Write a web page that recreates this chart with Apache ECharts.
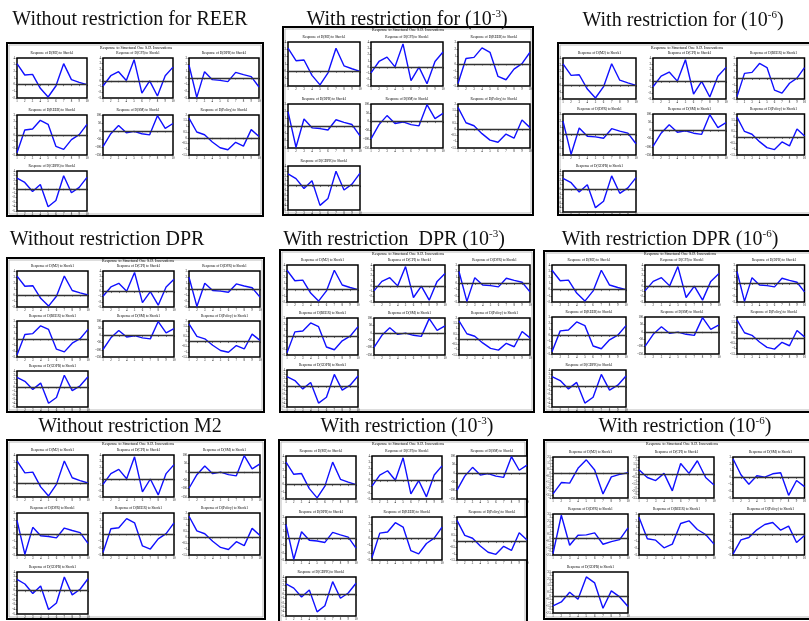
<!DOCTYPE html>
<html><head><meta charset="utf-8">
<script src="https://cdn.jsdelivr.net/npm/echarts@6/dist/echarts.min.js"></script>
<style>html,body{margin:0;padding:0;background:#fff}#c{width:809px;height:621px}</style>
</head><body><div id="c"></div><script>
// ---------- data ----------
const periods = ['1','2','3','4','5','6','7','8','9','10'];
const superTitle = 'Response to Structural One S.D. Innovations';

// base impulse responses (same shapes repeated across most panels)
const respM    = [3.15, 1.45, 1.55, -0.55, -1.85, -0.2, 3.15, 0.75, 0.35, 0];
const respCPP  = [-0.9, 0.9, 1.6, 0.05, 3.7, -2.15, 0, -2.65, 0.9, 2.4];
const respDPR  = [1.95, -2.9, 0.95, -0.25, -0.35, -0.55, 0.85, 0.5, 0.2, -1.35];
const respREER = [-2.65, 0.75, 0.9, 2.2, 1.6, -1.7, -2.15, -0.7, 0.05, 1.6];
const respSM   = [-98, -17, 34, -11, -2, -17, -24, 96, 17, 47];
const respPOL  = [1.73, 0.51, 0.27, -0.36, -0.87, -1.04, -0.39, -0.72, 0.72, 0.12];
const respGDPR = [2.4, 1.43, -0.6, 0.98, -4.05, -2.63, 2.93, -0.9, 0.3, 2.55];

// responses with restriction (10^-6) for M2
const altM    = [-3.35, -1.55, -1.65, 0.7, 2.05, 0.45, -3.35, -0.65, -0.25, 0];
const altCPP  = [0.65, -0.5, -0.95, 0.1, -2.45, 1.55, 0.1, 1.95, -0.5, -1.6];
const altSM   = [2.75, 0.4, -0.98, 0.25, 0.05, 0.54, 0.69, -2.61, -0.44, -1.33];
const altDPR  = [-2.29, 3.32, -1.07, 0.39, 0.44, 0.73, -0.93, -0.54, -0.24, 1.46];
const altREER = [2.54, -0.63, -0.83, -1.95, -1.41, 1.61, 2.0, 0.73, 0, -1.41];
const altPOL  = [-2.88, -0.78, -0.44, 0.68, 1.46, 1.76, 0.63, 1.22, -1.17, -0.15];
const altGDPR = [-1.46, -0.88, 0.54, -0.49, 2.78, 1.9, -1.8, 0.73, -0.15, -1.56];

const varLabels = {M:'D(M2)', CPP:'D(CPI)', DPR:'D(DPR)', REER:'D(REER)', SM:'D(SM)', POL:'D(Policy)', GDPR:'D(GDPR)'};

const dataSets = {
  base: {M:respM, CPP:respCPP, DPR:respDPR, REER:respREER, SM:respSM, POL:respPOL, GDPR:respGDPR},
  alt:  {M:altM, CPP:altCPP, DPR:altDPR, REER:altREER, SM:altSM, POL:altPOL, GDPR:altGDPR}
};
// axis scales [min, max, interval]
const scales = {
  base: {M:[-2,4,1], CPP:[-3,4,1], DPR:[-3,3,1], REER:[-3,3,1], SM:[-150,100,50], POL:[-1.5,2,0.5], GDPR:[-5,4,1]},
  alt:  {M:[-4,2.5,0.5], CPP:[-3.5,2.5,0.5], DPR:[-2.5,3.5,0.5], REER:[-3,3,1], SM:[-3,3,1], POL:[-3,3,1], GDPR:[-2.5,3.5,0.5]}
};

// panel titles: [main, superscript, tail]
const panelTitles = [
  ['Without restriction for REER', '', ''],
  ['With restriction for (10', '-3', ')'],
  ['With restriction for (10', '-6', ')'],
  ['Without restriction DPR', '', ''],
  ['With restriction  DPR (10', '-3', ')'],
  ['With restriction DPR (10', '-6', ')'],
  ['Without restriction M2', '', ''],
  ['With restriction (10', '-3', ')'],
  ['With restriction (10', '-6', ')']
];
const panelOrders = [
  ['M','CPP','DPR','REER','SM','POL','GDPR'],
  ['M','CPP','REER','DPR','SM','POL','GDPR'],
  ['M','CPP','REER','DPR','SM','POL','GDPR'],
  ['M','CPP','DPR','REER','SM','POL','GDPR'],
  ['M','CPP','DPR','REER','SM','POL','GDPR'],
  ['M','CPP','DPR','REER','SM','POL','GDPR'],
  ['M','CPP','SM','DPR','REER','POL','GDPR'],
  ['M','CPP','SM','DPR','REER','POL','GDPR'],
  ['M','CPP','SM','DPR','REER','POL','GDPR']
];
const panelSets = ['base','base','base','base','base','base','base','base','alt'];

// ---------- layout ----------
const layout = [
  {tx:130, ty:20,  box:[7,43,256,173],   sx:136, sy:48,  cols:[17,103,189],  w:70, rows:[58,115,171],  h:40},
  {tx:407, ty:20,  box:[283,27,250,188], sx:408, sy:29.5,cols:[288,371,458], w:72, rows:[42,104,166],  h:44},
  {tx:683, ty:21,  box:[558,43,270,172], sx:687, sy:48,  cols:[563,653,737], w:73, rows:[58,114,171],  h:41},
  {tx:107, ty:240, box:[7,258,257,154],  sx:138, sy:261, cols:[17,103,189],  w:71, rows:[271,321,371], h:36},
  {tx:394, ty:240, box:[280,250,254,162],sx:408, sy:254, cols:[287,374,459], w:71, rows:[265,318,370], h:37},
  {tx:670, ty:240, box:[544,251,280,161],sx:680, sy:254, cols:[552,645,737], w:74, rows:[265,317,370], h:37},
  {tx:130, ty:427, box:[7,440,258,179],  sx:138, sy:444, cols:[17,103,189],  w:71, rows:[455,513,572], h:42},
  {tx:407, ty:427, box:[279,440,248,200],sx:408, sy:444, cols:[286,372,457], w:70, rows:[456,517,577], h:43},
  {tx:685, ty:427, box:[544,440,280,179],sx:682, sy:444, cols:[553,639,733], w:75, rows:[457,514,572], h:41}
];

const FONT = 'Liberation Serif';
const grids = [], xAxes = [], yAxes = [], series = [], graphic = [];
let gi = 0;
layout.forEach((L, p) => {
  const [bx, by, bw, bh] = L.box;
  graphic.push({type:'rect', shape:{x:bx, y:by, width:bw, height:bh}, style:{fill:'#fff', stroke:'#000', lineWidth:2}, z:-10, silent:true});
  graphic.push({type:'rect', shape:{x:bx+2, y:by+2, width:bw-4, height:bh-4}, style:{fill:'none', stroke:'#aaa', lineWidth:0.8}, z:-9, silent:true});
  const t = panelTitles[p];
  const txt = t[1] ? '{n|' + t[0] + '}{s|' + t[1] + '}{n|' + t[2] + '}' : '{n|' + t[0] + '}';
  graphic.push({type:'text', x:L.tx, y:L.ty, z:50, silent:true, style:{text:txt, align:'center', verticalAlign:'middle',
    rich:{n:{fontSize:20, fontFamily:FONT, fill:'#111', lineHeight:22}, s:{fontSize:11, fontFamily:FONT, fill:'#111', verticalAlign:'top'}}}});
  graphic.push({type:'text', x:L.sx, y:L.sy, z:50, silent:true, style:{text:superTitle, align:'center', verticalAlign:'middle', fontSize:4, fontFamily:FONT, fill:'#000'}});
  panelOrders[p].forEach((v, k) => {
    const col = k % 3, row = Math.floor(k / 3);
    const gx = L.cols[col], gy = L.rows[row];
    const sc = scales[panelSets[p]][v];
    grids.push({left:gx, top:gy, width:L.w, height:L.h, show:true, borderColor:'#000', borderWidth:1.5, backgroundColor:'#fff', containLabel:false});
    xAxes.push({gridIndex:gi, type:'category', data:periods, boundaryGap:false,
      axisLine:{show:false}, axisTick:{show:true, length:1.5, interval:0, lineStyle:{color:'#000', width:0.5}},
      axisLabel:{fontSize:3, margin:2, color:'#000', interval:0, fontFamily:FONT}, splitLine:{show:false}});
    yAxes.push({gridIndex:gi, type:'value', min:sc[0], max:sc[1], interval:sc[2],
      axisLine:{show:false}, axisTick:{show:true, length:1.5, lineStyle:{color:'#000', width:0.5}},
      axisLabel:{fontSize:3, margin:2, color:'#000', fontFamily:FONT}, splitLine:{show:false}});
    series.push({type:'line', xAxisIndex:gi, yAxisIndex:gi, data:dataSets[panelSets[p]][v], symbol:'none',
      lineStyle:{color:'#1010ff', width:1.4}, z:3,
      markLine:{silent:true, symbol:'none', label:{show:false}, animation:false,
        lineStyle:{color:'#333', width:1.3, type:'solid'}, data:[{yAxis:0}]}});
    graphic.push({type:'text', x:gx + L.w/2, y:gy - 5, z:50, silent:true, style:{text:'Response of ' + varLabels[v] + ' to Shock1', align:'center', verticalAlign:'middle', fontSize:3.5, fontFamily:FONT, fill:'#000'}});
    gi++;
  });
});

const chart = echarts.init(document.getElementById('c'), null, {renderer:'canvas'});
chart.setOption({animation:false, backgroundColor:'#fff', grid:grids, xAxis:xAxes, yAxis:yAxes, series:series, graphic:graphic});
</script></body></html>
